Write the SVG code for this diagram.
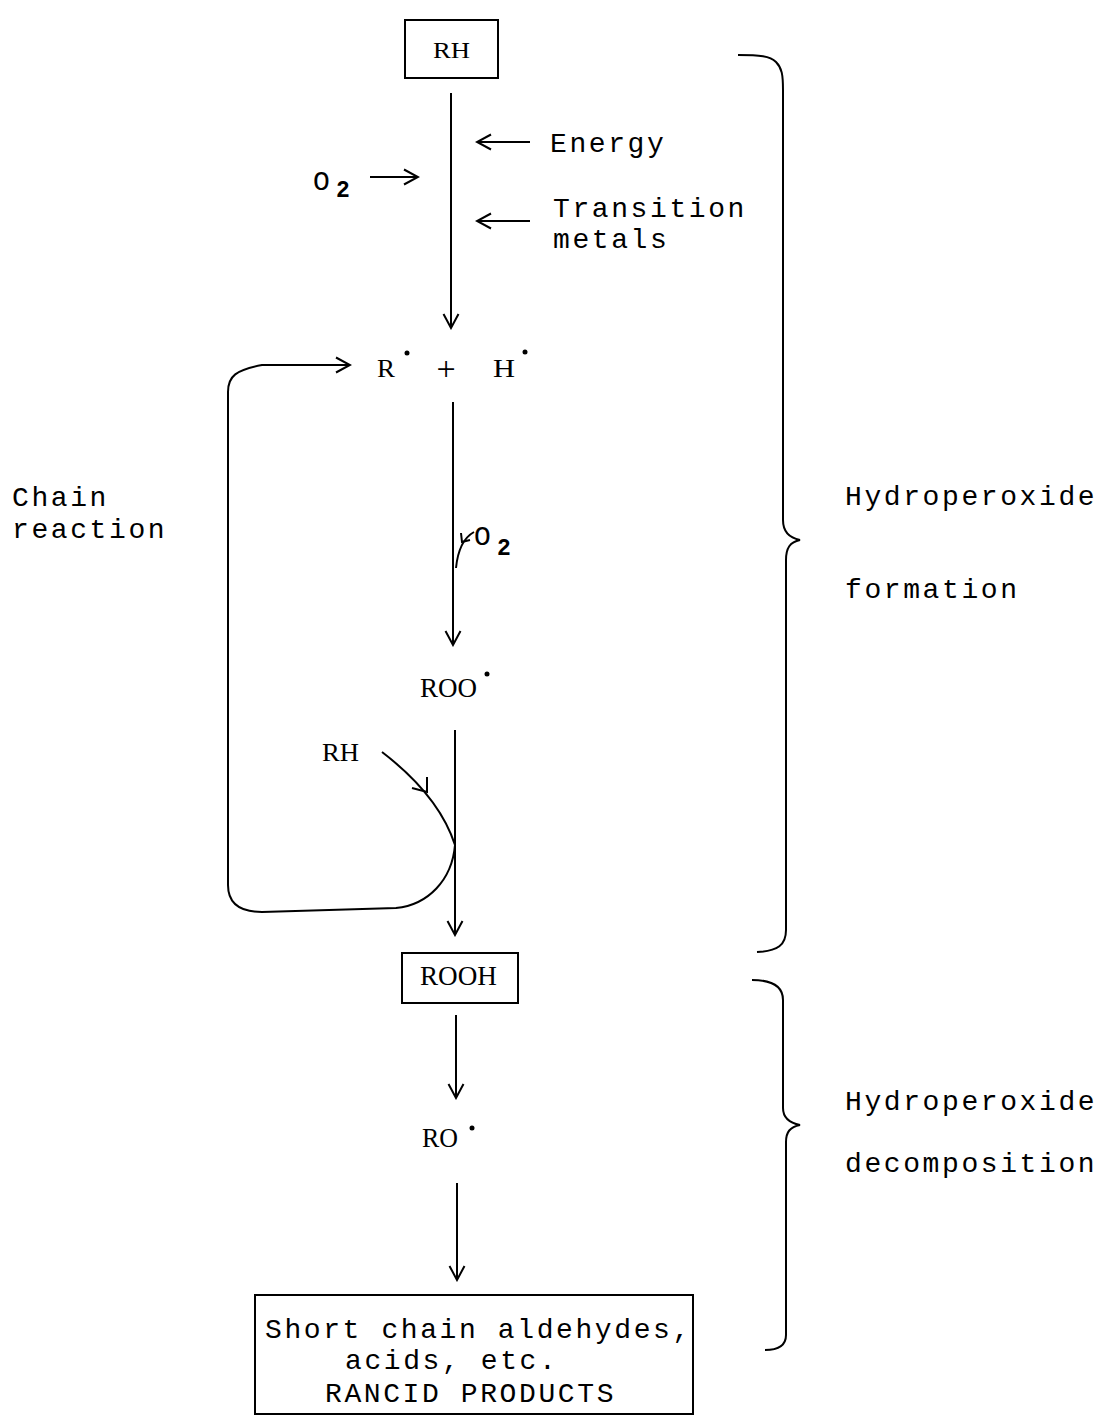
<svg xmlns="http://www.w3.org/2000/svg" width="1102" height="1417" viewBox="0 0 1102 1417">
<style>
.mono{font-family:"Liberation Mono","Courier New",monospace;font-size:28px;letter-spacing:2.6px;fill:#000}
.sub{font-family:"Liberation Mono","Courier New",monospace;font-size:23px;font-weight:bold;fill:#000}
.serif{font-family:"Liberation Serif","Times New Roman",serif;font-size:26px;fill:#000}
.box{fill:#fff;stroke:#000;stroke-width:2}
.ln{fill:none;stroke:#000;stroke-width:2}
.dot{fill:#000}
</style>
<defs>
<marker id="ah" markerUnits="userSpaceOnUse" markerWidth="18" markerHeight="18" viewBox="0 0 18 18" refX="16" refY="9" orient="auto">
<path d="M2,1.5 L16,9 L2,16.5" fill="none" stroke="#000" stroke-width="2"/>
</marker>
</defs>
<rect width="1102" height="1417" fill="#fff"/>

<g id="node-RH">
<rect class="box" x="405" y="20" width="93" height="58"/>
<text class="serif" x="433" y="58" style="font-size:24px" textLength="37" lengthAdjust="spacingAndGlyphs">RH</text>
</g>
<g id="label-energy"><text class="mono" x="550" y="152">Energy</text></g>
<g id="label-transition"><text class="mono" x="553" y="217">Transition</text><text class="mono" x="553" y="248">metals</text></g>
<g id="label-o2-a"><text class="mono" x="313" y="190">O</text><text class="sub" x="336" y="197">2</text></g>

<g id="node-RH-radicals">
<text class="serif" x="377" y="377" textLength="18" lengthAdjust="spacingAndGlyphs">R</text>
<circle class="dot" cx="407" cy="353" r="2.5"/>
<text class="serif" x="446" y="380" text-anchor="middle" style="font-size:34px">+</text>
<text class="serif" x="493" y="377" textLength="22" lengthAdjust="spacingAndGlyphs">H</text>
<circle class="dot" cx="525" cy="352" r="2.5"/>
</g>
<g id="label-o2-b"><text class="mono" x="474" y="545">O</text><text class="sub" x="497" y="555">2</text></g>

<g id="node-ROO">
<text class="serif" x="420" y="697" style="font-size:27px" textLength="57" lengthAdjust="spacingAndGlyphs">ROO</text>
<circle class="dot" cx="487" cy="674" r="2.5"/>
</g>
<g id="label-RH2"><text class="serif" x="322" y="761" style="font-size:25px" textLength="37" lengthAdjust="spacingAndGlyphs">RH</text></g>
<g id="label-chain"><text class="mono" x="12" y="506">Chain</text><text class="mono" x="12" y="538">reaction</text></g>

<g id="node-ROOH">
<rect class="box" x="402" y="953" width="116" height="50"/>
<text class="serif" x="420" y="985" style="font-size:27px" textLength="77" lengthAdjust="spacingAndGlyphs">ROOH</text>
</g>
<g id="node-RO">
<text class="serif" x="422" y="1147" style="font-size:28px" textLength="36" lengthAdjust="spacingAndGlyphs">RO</text>
<circle class="dot" cx="472" cy="1128" r="2.5"/>
</g>
<g id="node-products">
<rect class="box" x="255" y="1295" width="438" height="119"/>
<text class="mono" x="265" y="1338">Short chain aldehydes,</text>
<text class="mono" x="345" y="1369">acids, etc.</text>
<text class="mono" x="325" y="1402">RANCID PRODUCTS</text>
</g>

<g id="brace-formation">
<path class="ln" d="M738,55 C760,55 770,56 776,62 C782,68 783,75 783,90 L783,520 C783,532 790,538 800,540 C790,542 786,548 786,560 L786,930 C786,945 778,951 757,952"/>
<text class="mono" x="845" y="505">Hydroperoxide</text>
<text class="mono" x="845" y="598">formation</text>
</g>
<g id="brace-decomposition">
<path class="ln" d="M752,980 C770,980 783,985 783,1000 L783,1108 C783,1118 790,1123 800,1125 C790,1127 786,1132 786,1142 L786,1335 C786,1346 778,1350 765,1350"/>
<text class="mono" x="845" y="1110">Hydroperoxide</text>
<text class="mono" x="845" y="1172">decomposition</text>
</g>

<g id="connectors">
<line class="ln" x1="451" y1="93" x2="451" y2="328" marker-end="url(#ah)"/>
<line class="ln" x1="530" y1="142" x2="477" y2="142" marker-end="url(#ah)"/>
<line class="ln" x1="530" y1="221" x2="477" y2="221" marker-end="url(#ah)"/>
<line class="ln" x1="370" y1="177" x2="418" y2="177" marker-end="url(#ah)"/>
<line class="ln" x1="453" y1="402" x2="453" y2="645" marker-end="url(#ah)"/>
<path class="ln" d="M474,532 C465,537 458,548 456,568"/>
<path class="ln" d="M461,533 L462,542 L470,540"/>
<line class="ln" x1="455" y1="730" x2="455" y2="935" marker-end="url(#ah)"/>
<path class="ln" d="M382,752 C412,775 442,805 455,845 C452,880 428,905 396,908 L262,912 C240,912 228,903 228,885 L228,392 C228,376 236,370 262,365 L350,365" marker-end="url(#ah)"/>
<path class="ln" d="M412,788 L427,792 L427,777"/>
<line class="ln" x1="456" y1="1015" x2="456" y2="1098" marker-end="url(#ah)"/>
<line class="ln" x1="457" y1="1183" x2="457" y2="1280" marker-end="url(#ah)"/>
</g>
</svg>
